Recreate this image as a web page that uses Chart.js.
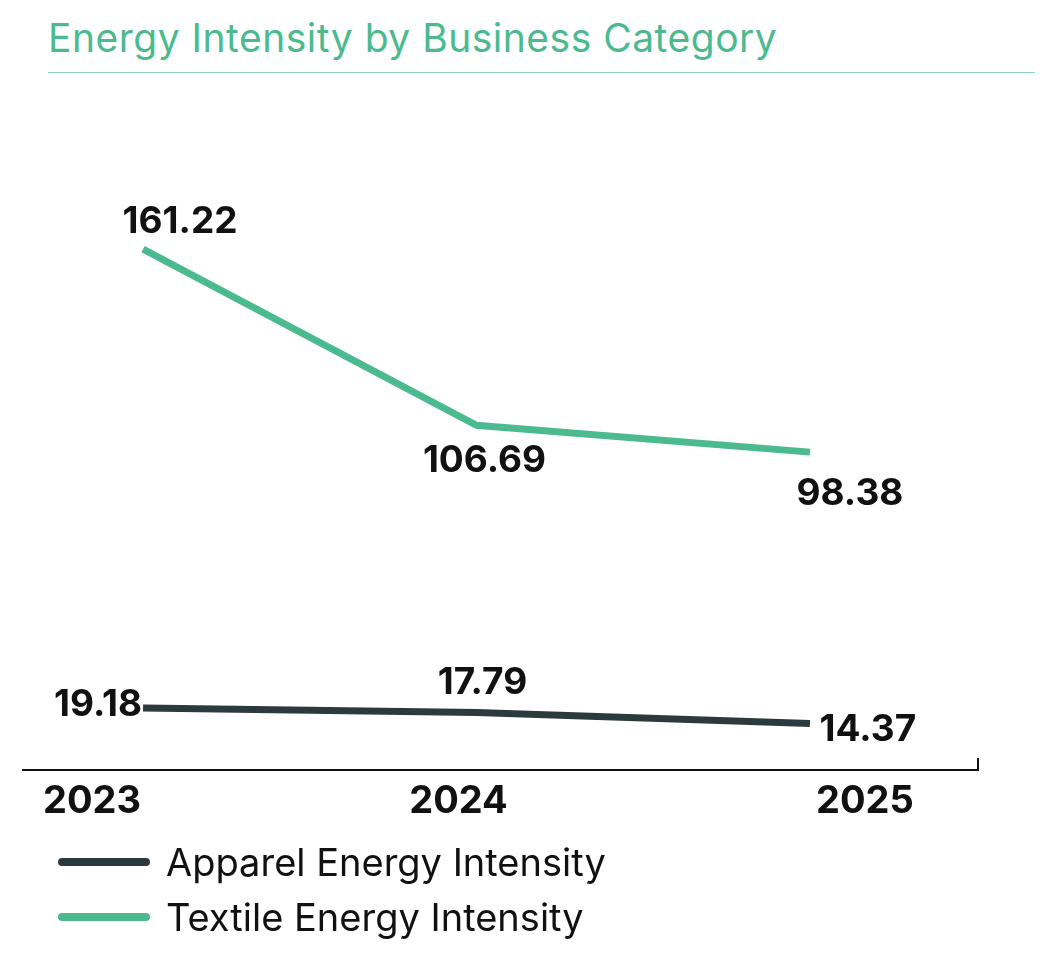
<!DOCTYPE html><html><head><meta charset="utf-8">
<script src="https://cdn.jsdelivr.net/npm/chart.js@4"></script>
<style>body{margin:0;background:#fff;font-family:Inter,"Noto Sans",sans-serif}
#t{position:absolute;left:48px;top:14px;font-size:39px;letter-spacing:0.5px;color:#4cba8f}
#hr{position:absolute;left:48px;top:72px;width:987px;height:1px;background:#8fd3b6}
#w{position:absolute;left:0;top:80px;width:1059px;height:886px}
.lg{position:absolute;left:58px;font-size:38px;color:#111;display:flex;align-items:center;height:50px}
.lg span{display:inline-block;width:92px;height:8px;border-radius:4px;margin-right:16px}</style></head><body>
<div id="t">Energy Intensity by Business Category</div><div id="hr"></div>
<div id="w"><canvas id="c"></canvas></div>
<div class="lg" style="top:837px"><span style="background:#2d3a3d"></span>Apparel Energy Intensity</div>
<div class="lg" style="top:892px"><span style="background:#4cba8f"></span>Textile Energy Intensity</div>
<script>
const years=[2023,2024,2025];
const yearLabels=['2023','2024','2025'];
const apparel=[19.18,17.79,14.37];
const textile=[161.22,106.69,98.38];
const dark='#2d3a3d', green='#4cba8f';
const labelOffsets={0:[[-45,-3],[6,-30],[58,6]],1:[[37,-27],[8,36],[40,42]]};
const yearOffsets=[-51,-18,55];
const F='Inter, "Noto Sans", sans-serif';
const lbl={id:'lbl',afterDatasetsDraw(ch){const c=ch.ctx;c.save();c.font='bold 37px '+F;c.fillStyle='#111';c.textAlign='center';c.textBaseline='middle';
ch.data.datasets.forEach((d,i)=>{ch.getDatasetMeta(i).data.forEach((p,j)=>{const o=labelOffsets[i][j];c.fillText(d.data[j].y.toFixed(2),p.x+o[0],p.y+o[1]);});});
const a=ch.chartArea,xs=ch.scales.x;
c.font='bold 38px '+F;years.forEach((y,i)=>c.fillText(yearLabels[i],xs.getPixelForValue(y)+yearOffsets[i],a.bottom+32));
c.strokeStyle='#111';c.lineWidth=2;c.beginPath();c.moveTo(a.left,a.bottom);c.lineTo(a.right,a.bottom);c.moveTo(a.right,a.bottom+1);c.lineTo(a.right,a.bottom-12);c.stroke();c.restore();}};
new Chart(document.getElementById('c'),{type:'line',plugins:[lbl],
data:{datasets:[{label:'Apparel Energy Intensity',data:years.map((x,i)=>({x,y:apparel[i]})),borderColor:dark,backgroundColor:dark,borderWidth:7,pointRadius:0},
{label:'Textile Energy Intensity',data:years.map((x,i)=>({x,y:textile[i]})),borderColor:green,backgroundColor:green,borderWidth:7,pointRadius:0}]},
options:{responsive:true,maintainAspectRatio:false,animation:false,layout:{padding:{left:22,right:81,top:47,bottom:196}},
plugins:{legend:{display:false},tooltip:{enabled:false}},
scales:{x:{type:'linear',display:false,min:2022.637,max:2025.504},
y:{display:false,min:0,max:199}}}});
</script></body></html>
